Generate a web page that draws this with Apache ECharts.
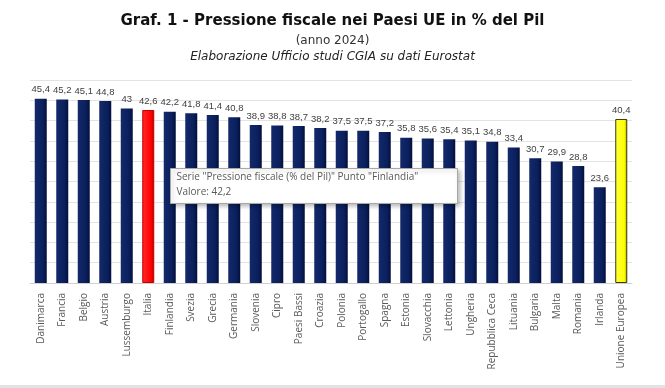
<!DOCTYPE html>
<html><head><meta charset="utf-8">
<script src="https://cdn.jsdelivr.net/npm/echarts@6/dist/echarts.min.js"></script>
<style>html,body{margin:0;padding:0;background:#fff}#c{width:665px;height:388px}</style>
</head><body><div id="c"></div>
<script>
const categories = ["Danimarca","Francia","Belgio","Austria","Lussemburgo","Italia","Finlandia","Svezia","Grecia","Germania","Slovenia","Cipro","Paesi Bassi","Croazia","Polonia","Portogallo","Spagna","Estonia","Slovacchia","Lettonia","Ungheria","Repubblica Ceca","Lituania","Bulgaria","Malta","Romania","Irlanda","Unione Europea"];
const values = [45.4,45.2,45.1,44.8,43,42.6,42.2,41.8,41.4,40.8,38.9,38.8,38.7,38.2,37.5,37.5,37.2,35.8,35.6,35.4,35.1,34.8,33.4,30.7,29.9,28.8,23.6,40.4];
const seriesName = "Pressione fiscale (% del Pil)";

const navy = {type:'linear',x:0,y:0,x2:1,y2:0,colorStops:[{offset:0,color:'#14296a'},{offset:0.7,color:'#0a1f5c'},{offset:1,color:'#030f38'}]};
const red = {type:'linear',x:0,y:0,x2:1,y2:0,colorStops:[{offset:0,color:'#ff2a2a'},{offset:0.75,color:'#ff0000'},{offset:1,color:'#b00000'}]};
const yellow = {type:'linear',x:0,y:0,x2:1,y2:0,colorStops:[{offset:0,color:'#ffff40'},{offset:0.75,color:'#ffff00'},{offset:1,color:'#a8a800'}]};

const data = values.map((v,i)=>{
  const name = categories[i];
  if (name === 'Italia') return {value:v,itemStyle:{color:red,borderColor:'#c00000',borderWidth:1}};
  if (name === 'Unione Europea') return {value:v,itemStyle:{color:yellow,borderColor:'#3a3a00',borderWidth:1}};
  return {value:v,itemStyle:{color:navy}};
});

const chart = echarts.init(document.getElementById('c'));
const fi = categories.indexOf('Finlandia');
chart.setOption({
  animation:false,
  title:[
    {text:'Graf. 1 - Pressione fiscale nei Paesi UE in % del Pil',left:'center',top:9,
     textStyle:{fontFamily:'DejaVu Sans',fontWeight:'bold',fontSize:15,color:'#111'}},
    {text:'(anno 2024)',left:'center',top:30,textStyle:{fontFamily:'DejaVu Sans',fontWeight:'normal',fontSize:12,color:'#333'}},
    {text:'Elaborazione Ufficio studi CGIA su dati Eurostat',left:'center',top:46,
     textStyle:{fontFamily:'DejaVu Sans',fontStyle:'italic',fontWeight:'normal',fontSize:12,color:'#222'}}
  ],
  grid:{left:30,right:33,top:80,bottom:105},
  xAxis:{type:'category',data:categories,
    axisLine:{show:true,lineStyle:{color:'#d0d0d0',width:1}},axisTick:{show:false},
    axisLabel:{rotate:90,interval:0,margin:10,fontFamily:'Open Sans',fontSize:10,color:'#595959'}},
  yAxis:{type:'value',min:0,max:50,interval:5,
    axisLabel:{show:false},axisLine:{show:false},axisTick:{show:false},
    splitLine:{lineStyle:{color:'#e3e3e3',width:1}}},
  series:[{type:'bar',name:seriesName,data:data,barWidth:12,
    label:{show:true,position:'top',distance:4,fontFamily:'Liberation Sans',fontSize:9.5,color:'#404040',
      formatter:p=>String(p.value).replace('.',',')}}],
  graphic:[
    {type:'rect',left:0,top:385,shape:{width:665,height:3},style:{fill:'#e2e2e2'},silent:true},
    {type:'group',left:170,top:168,z:100,children:[
      {type:'rect',z:100,shape:{x:0,y:0,width:287,height:35},
       style:{fill:'#ffffff',stroke:'#a8a8a8',lineWidth:1,shadowBlur:4,shadowColor:'rgba(0,0,0,0.25)',shadowOffsetX:2,shadowOffsetY:2}},
      {type:'text',z:101,left:6,top:4,style:{text:'Serie "'+seriesName+'" Punto "'+categories[fi]+'"',
        font:'10px "Open Sans"',fill:'#595959'}},
      {type:'text',z:101,left:6,top:19,style:{text:'Valore: '+String(values[fi]).replace('.',','),
        font:'10px "Open Sans"',fill:'#595959'}}
    ]}
  ]
});
</script></body></html>
